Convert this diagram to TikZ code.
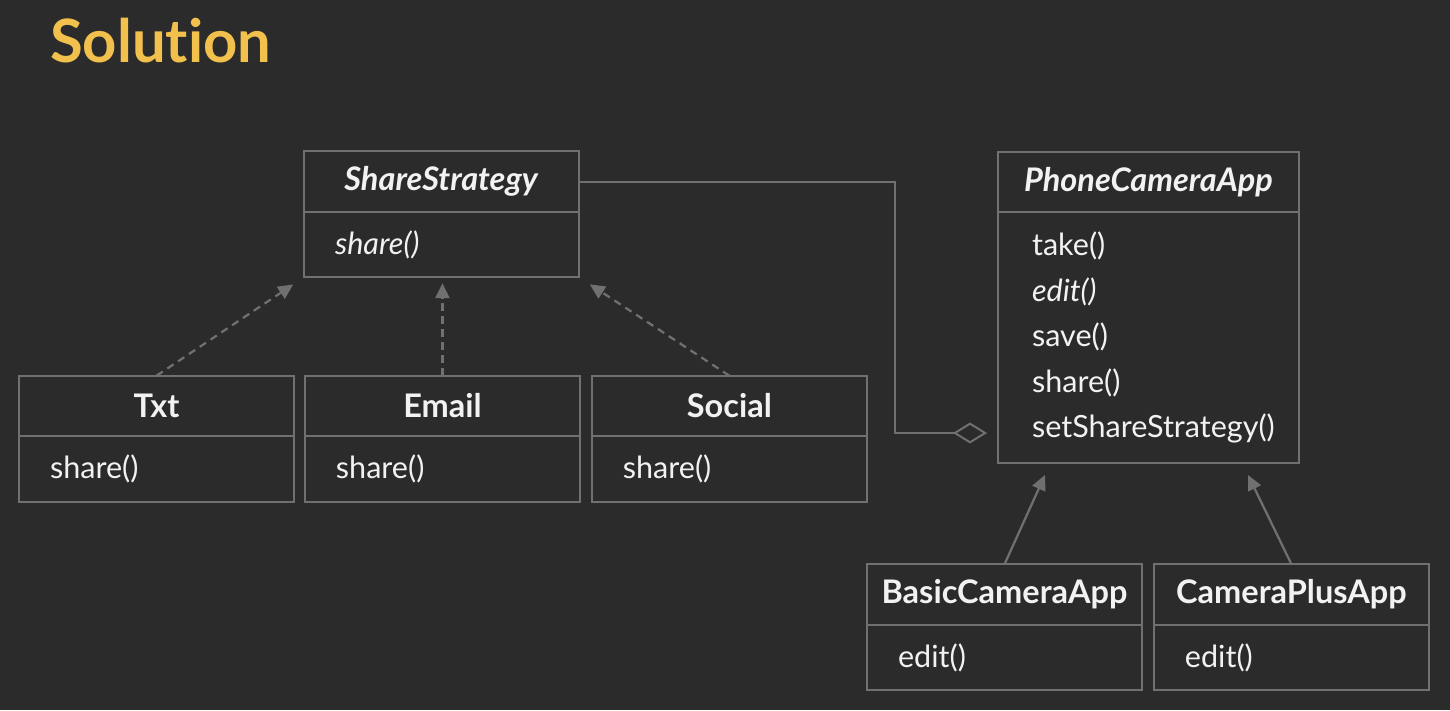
\documentclass[tikz,border=0pt]{standalone}
\usepackage{fontspec}
\setmainfont{Lato}[Ligatures=CommonOff]
\usetikzlibrary{positioning,arrows.meta}
\definecolor{bg}{HTML}{2B2B2B}
\definecolor{umlline}{HTML}{707070}
\definecolor{umltext}{HTML}{F2F2F2}
\definecolor{gold}{HTML}{F2C04C}
\tikzset{
  head/.style={draw=umlline, line width=0.04cm, outer sep=0pt, minimum width=5.5cm,
    minimum height=1.21cm, text=umltext, font=\fontsize{18.5}{22}\selectfont\bfseries},
  body/.style={draw=umlline, line width=0.04cm, outer sep=0pt, align=left,
    inner xsep=0.62cm, text width=4.26cm, minimum height=1.31cm, text=umltext,
    font=\fontsize{17.4}{25.9}\selectfont},
  realize/.style={draw=umlline, line width=0.045cm, dash pattern=on 0.15cm off 0.11cm,
    -{Triangle[length=0.3cm, width=0.28cm]}},
  extend/.style={draw=umlline, line width=0.045cm, -{Triangle[length=0.3cm, width=0.28cm]}},
  agg/.style={draw=umlline, line width=0.04cm,
    -{Diamond[open, fill=bg, length=0.68cm, width=0.42cm]}}
}
\begin{document}
\begin{tikzpicture}[x=0.02cm, y=-0.02cm]
  \fill[bg] (0, 0) rectangle (1450, 710) ;
  \useasboundingbox (0, 0) rectangle (1450, 710) ;
  \node[anchor=base west, text=gold, font=\fontsize{34}{40}\selectfont\bfseries] (title) at (44, 62) {Solution} ;

  % strategy side
  \node[head] (sharehead) at (441.5, 181.5) {\textit{ShareStrategy}} ;
  \node[body, below=0pt of sharehead] (sharebody) {\textit{share()}} ;
  \node[head] (txthead) at (156.5, 406) {Txt} ;
  \node[body, below=0pt of txthead] (txtbody) {share()} ;
  \node[head, right=0.22cm of txthead] (emailhead) {Email} ;
  \node[body, below=0pt of emailhead] (emailbody) {share()} ;
  \node[head, right=0.24cm of emailhead] (socialhead) {Social} ;
  \node[body, below=0pt of socialhead] (socialbody) {share()} ;

  % camera apps
  \node[head, minimum width=6.02cm] (phonehead) at (1148.5, 182) {\textit{PhoneCameraApp}} ;
  \node[body, below=0pt of phonehead, inner xsep=0.68cm, text width=4.66cm, minimum height=5.02cm]
    (phonebody) {take()\\ \textit{edit()}\\ save()\\ share()\\ setShareStrategy()} ;
  \node[head] (basichead) at (1004.5, 594.5) {BasicCameraApp} ;
  \node[body, below=0pt of basichead] (basicbody) {edit()} ;
  \node[head, right=0.24cm of basichead] (plushead) {CameraPlusApp} ;
  \node[body, below=0pt of plushead] (plusbody) {edit()} ;

  \coordinate (bend) at (895, 433) ;
  \coordinate (aggend) at (987, 433) ;
  \coordinate (basictip) at (1045, 475) ;
  \coordinate (plustip) at (1248, 475) ;

  \draw[realize, shorten >=0.26cm] (txthead.north) -- (sharebody.south west) ;
  \draw[realize, shorten >=0.12cm] (emailhead.north) -- (emailhead.north |- sharebody.south) ;
  \draw[realize, shorten >=0.26cm] (socialhead.north) -- (sharebody.south east) ;
  \draw[agg] (sharehead.east) -| (bend) -- (aggend) ;
  \draw[extend] (basichead.north) -- (basictip) ;
  \draw[extend] (plushead.north) -- (plustip) ;
\end{tikzpicture}
\end{document}
